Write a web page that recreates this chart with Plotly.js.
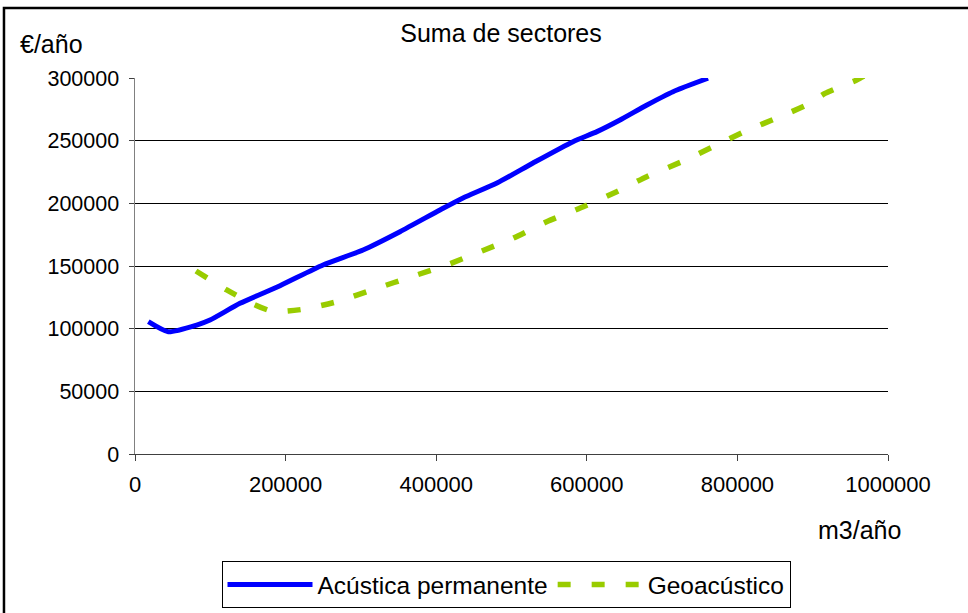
<!DOCTYPE html>
<html>
<head>
<meta charset="utf-8">
<script src="https://cdn.plot.ly/plotly-3.0.1.min.js"></script>
<style>html,body{margin:0;padding:0;background:#fff;}#chart{width:968px;height:613px;}</style>
</head>
<body>
<div id="chart"></div>
<script>
// Data
const acusticaX = [17700, 44200, 81900, 99600, 139400, 192600, 249700, 302800, 351900, 405000, 435600, 480700, 528600, 581700, 613500, 644100, 679900, 714500, 761000];
const acusticaY = [105600, 97600, 102900, 106900, 120200, 134300, 150800, 162800, 177400, 194700, 204300, 216200, 232200, 249200, 257200, 266500, 278500, 289100, 299800];

const geoX = [81000, 121800, 155000, 183700, 223500, 267900, 321000, 367400, 414000, 458200, 502000, 546700, 595400, 639700, 679500, 726000, 772500, 812300, 856600, 896400, 916300, 958400, 968000];
const geoY = [146000, 130900, 120200, 113600, 115500, 121500, 132200, 141500, 150800, 161400, 172100, 185300, 197300, 209300, 221300, 233200, 246500, 258000, 269100, 279800, 287700, 298400, 301500];

const seriesNames = ["Acústica permanente", "Geoacústico"];
const yTicks = [0, 50000, 100000, 150000, 200000, 250000, 300000];
const xTicks = [0, 200000, 400000, 600000, 800000, 1000000];
const chartTitle = "Suma de sectores";
const yLabel = "€/año";
const xLabel = "m3/año";

const FONT = "Liberation Sans, Arial, sans-serif";

const traces = [
  {
    x: acusticaX, y: acusticaY, name: seriesNames[0], type: "scatter", mode: "lines",
    line: {color: "#0000ff", width: 5, shape: "spline", smoothing: 0.6}
  },
  {
    x: geoX, y: geoY, name: seriesNames[1], type: "scatter", mode: "lines",
    line: {color: "#99cc00", width: 5.5, shape: "spline", smoothing: 0.6, dash: "13px,21px"}
  }
];

const layout = {
  width: 968, height: 613,
  margin: {l: 135, r: 80, t: 78, b: 159, autoexpand: false},
  paper_bgcolor: "#ffffff", plot_bgcolor: "#ffffff",
  font: {family: FONT, color: "#000000", size: 21},
  title: {text: chartTitle, font: {family: FONT, size: 25, color: "#000"}, x: 0.5176, xref: "container", xanchor: "center", y: 0.946, yref: "container", yanchor: "middle"},
  showlegend: true,
  legend: {
    orientation: "h", x: 0.4927, xanchor: "center", y: -0.347, yanchor: "middle",
    bordercolor: "#000", borderwidth: 1, bgcolor: "#fff",
    font: {family: FONT, size: 24.5, color: "#000"}, tracegroupgap: 0, itemwidth: 85
  },
  xaxis: {
    range: [0, 1000000], tickvals: xTicks, ticktext: xTicks.map(String),
    showgrid: false, zeroline: false, showline: true, linecolor: "#404040", linewidth: 1,
    ticks: "outside", ticklen: 6, tickcolor: "#404040", ticklabelstandoff: 5,
    tickfont: {family: FONT, size: 22, color: "#000"}, fixedrange: true
  },
  yaxis: {
    range: [0, 300000], tickvals: yTicks, ticktext: yTicks.map(String),
    showgrid: true, gridcolor: "#000000", gridwidth: 1, zeroline: false,
    showline: true, linecolor: "#808080", linewidth: 1.5,
    ticks: "outside", ticklen: 5, tickcolor: "#404040", ticklabelstandoff: 5,
    tickfont: {family: FONT, size: 21.5, color: "#000"}, fixedrange: true
  },
  annotations: [
    {text: yLabel, xref: "paper", yref: "paper", x: -0.1554, y: 1.0904, xanchor: "left", yanchor: "middle", showarrow: false, font: {family: FONT, size: 25, color: "#000"}},
    {text: xLabel, xref: "paper", yref: "paper", x: 0.9628, y: -0.2021, xanchor: "center", yanchor: "middle", showarrow: false, font: {family: FONT, size: 25, color: "#000"}}
  ],
  shapes: [
    {type: "rect", xref: "paper", yref: "paper", x0: -0.174, x1: 1.12, y0: -0.45, y1: 1.186, line: {color: "#000", width: 2.5}, fillcolor: "rgba(0,0,0,0)", layer: "below"}
  ]
};

Plotly.newPlot("chart", traces, layout, {staticPlot: true, displayModeBar: false});
</script>
</body>
</html>
